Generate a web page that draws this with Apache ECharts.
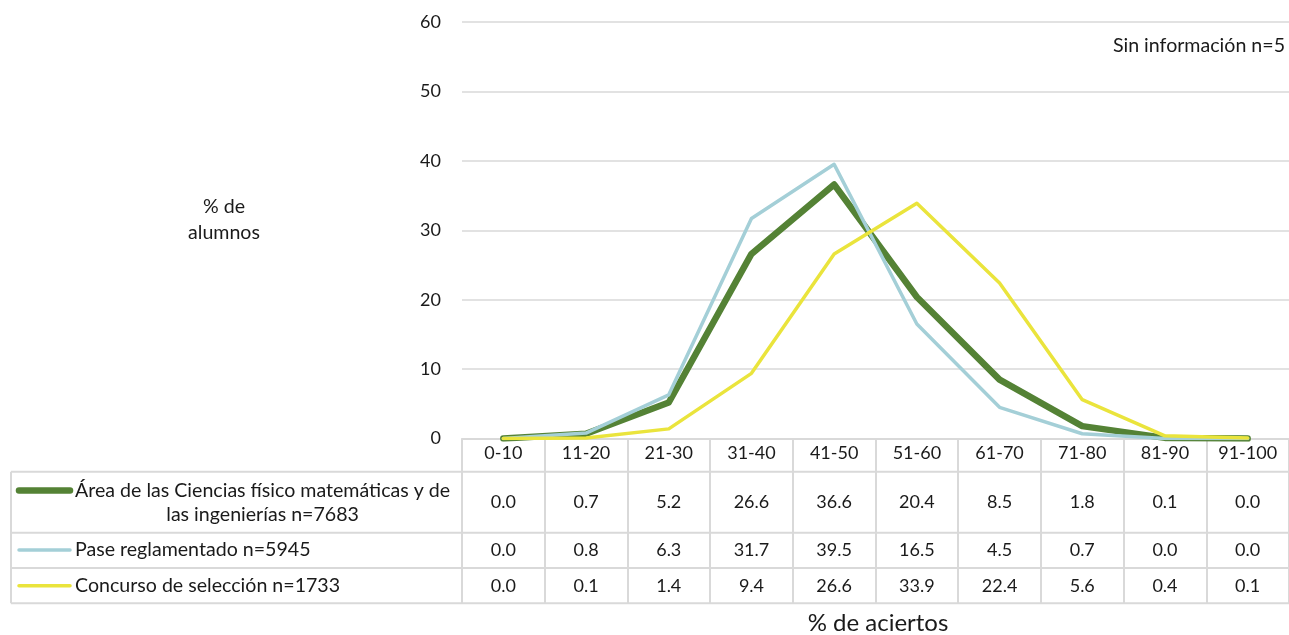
<!DOCTYPE html>
<html>
<head>
<meta charset="utf-8">
<script src="https://cdn.jsdelivr.net/npm/echarts/dist/echarts.min.js"></script>
<style>
html,body{margin:0;padding:0;background:#fff;}
#chart{width:1289px;height:635px;}
</style>
</head>
<body>
<div id="chart"></div>
<script>
// ---- data ----
const categories = ['0-10','11-20','21-30','31-40','41-50','51-60','61-70','71-80','81-90','91-100'];
const areaName = 'Área de las Ciencias físico matemáticas y de las ingenierías n=7683';
const areaValues = [0.0,0.7,5.2,26.6,36.6,20.4,8.5,1.8,0.1,0.0];
const paseName = 'Pase reglamentado n=5945';
const paseValues = [0.0,0.8,6.3,31.7,39.5,16.5,4.5,0.7,0.0,0.0];
const concursoName = 'Concurso de selección n=1733';
const concursoValues = [0.0,0.1,1.4,9.4,26.6,33.9,22.4,5.6,0.4,0.1];
const yTicks = {min:0, max:60, interval:10};
const yAxisTitle = '% de\nalumnos';
const xAxisTitle = '% de aciertos';
const noteText = 'Sin información n=5';

// ---- styles / layout ----
const FONT = 'Lato, "Open Sans", sans-serif';
const FS = 18;      // numbers
const FST = 19.6;   // text labels
const TXT = '#1a1a1a';
const GRID_C = '#d9d9d9';
const colors = ['#548235', '#a4cfd7', '#eae43c'];
const widths = [6.5, 3.5, 3.5];
const gridLeft = 462, gridTop = 22, gridBottom = 196.4, gridRight = -8;
const axisY = 635 - gridBottom;
const rowCenters = [502, 550, 585.7];
const rowLines = [471.7, 532.7, 568, 603.3];
const tableLeft = 11;

const rows = [
  {name: areaName, values: areaValues},
  {name: paseName, values: paseValues},
  {name: concursoName, values: concursoValues}
];

const chart = echarts.init(document.getElementById('chart'), null, {renderer:'canvas'});

const extraX = rows.map((r, i) => ({
  type: 'category',
  gridIndex: 0,
  position: 'bottom',
  offset: rowCenters[i] - FS/2 - axisY,
  data: r.values.map(v => v.toFixed(1)),
  axisLine: {show:false},
  axisTick: {show:false},
  splitLine: {show:false},
  axisLabel: {interval:0, margin:0, fontFamily:FONT, fontSize:FS, color:TXT}
}));

// measure text for legend label layout
const ctx = document.createElement('canvas').getContext('2d');
ctx.font = FST + 'px ' + FONT;

const graphics = [];
// table horizontal lines
rowLines.forEach(y => {
  graphics.push({type:'line', silent:true, shape:{x1:tableLeft, y1:y, x2:1289, y2:y}, style:{stroke:GRID_C, lineWidth:2}});
});
graphics.push({type:'line', silent:true, shape:{x1:tableLeft, y1:rowLines[0], x2:tableLeft, y2:rowLines[3]}, style:{stroke:GRID_C, lineWidth:2}});

// row headers (legend keys)
rows.forEach((r, i) => {
  let iconY = rowCenters[i];
  if (i === 0) {
    const line1 = 'Área de las Ciencias físico matemáticas y de';
    const line2 = r.name.slice(line1.length + 1);
    const w = ctx.measureText(line1).width;
    iconY = rowCenters[i] - 11.5;
    graphics.push({type:'text', silent:true, x:75, y:iconY, style:{text:line1, font:FST+'px '+FONT, fill:TXT, align:'left', verticalAlign:'middle'}});
    graphics.push({type:'text', silent:true, x:75 + w/2, y:iconY + 24, style:{text:line2, font:FST+'px '+FONT, fill:TXT, align:'center', verticalAlign:'middle'}});
  } else {
    graphics.push({type:'text', silent:true, x:75, y:iconY, style:{text:r.name, font:FST+'px '+FONT, fill:TXT, align:'left', verticalAlign:'middle'}});
  }
  graphics.push({type:'line', silent:true, shape:{x1:19, y1:iconY, x2:70, y2:iconY}, style:{stroke:colors[i], lineWidth:widths[i], lineCap:'round'}});
});

// titles
graphics.push({type:'text', silent:true, x:224, y:220, style:{text:yAxisTitle, font:FST+'px '+FONT, fill:TXT, align:'center', verticalAlign:'middle', lineHeight:26}});
graphics.push({type:'text', silent:true, x:1285, y:46, style:{text:noteText, font:FST+'px '+FONT, fill:TXT, align:'right', verticalAlign:'middle'}});
graphics.push({type:'text', silent:true, x:878, y:623, style:{text:xAxisTitle, font:'24px '+FONT, fill:TXT, align:'center', verticalAlign:'middle'}});

const option = {
  animation: false,
  backgroundColor: '#fff',
  grid: {left:gridLeft, top:gridTop, bottom:gridBottom, right:gridRight, containLabel:false},
  xAxis: [{
    type: 'category',
    data: categories,
    boundaryGap: true,
    axisLine: {show:true, lineStyle:{color:GRID_C, width:2}},
    axisTick: {show:true, interval:0, length: rowLines[3] - axisY, lineStyle:{color:GRID_C, width:2}},
    splitLine: {show:false},
    axisLabel: {interval:0, margin:6, fontFamily:FONT, fontSize:FS, color:TXT}
  }].concat(extraX),
  yAxis: {
    type: 'value',
    min: yTicks.min, max: yTicks.max, interval: yTicks.interval,
    axisLine: {show:false},
    axisTick: {show:false},
    splitLine: {show:true, lineStyle:{color:GRID_C, width:1.5}},
    axisLabel: {margin:21, fontFamily:FONT, fontSize:FS, color:TXT}
  },
  series: rows.map((r, i) => ({
    name: r.name,
    type: 'line',
    xAxisIndex: 0,
    data: r.values,
    symbol: 'none',
    lineStyle: {color:colors[i], width:widths[i], cap:'round', join:'round'},
    itemStyle: {color:colors[i]},
    z: 2 + i
  })),
  graphic: graphics
};
chart.setOption(option);
</script>
</body>
</html>
